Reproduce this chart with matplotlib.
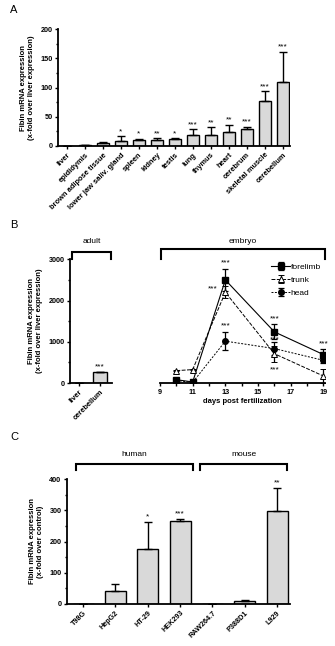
import numpy as np
import matplotlib
matplotlib.use("Agg")
import matplotlib.pyplot as plt

plt.rcParams['font.family'] = ['Liberation Sans', 'DejaVu Sans']
plt.rcParams['font.size'] = 5

# panel A: tissues
tissues = ["liver", "epididymis", "brown adipose tissue", "lower jaw saliv. gland",
           "spleen", "kidney", "testis", "lung", "thymus", "heart", "cerebrum",
           "skeletal muscle", "cerebellum"]
tissue_mean = [0, 1, 5, 8.5, 10, 10, 12, 19, 19, 24, 29, 77, 110]
tissue_err = [0, 0.5, 1.5, 8.5, 2, 3, 1.5, 9.5, 13, 12, 3.5, 17, 51]
tissue_sig = ["", "", "", "*", "*", "**", "*", "***", "**", "**", "***", "***", "***"]

# panel B: adult + embryo timecourse
adult = ["liver", "cerebellum"]
adult_mean = [0, 260]
adult_err = [0, 15]
adult_sig = ["", "***"]
days = [10, 11, 13, 16, 19]
forelimb = [80, 25, 2500, 1240, 690]
forelimb_err = [30, 10, 260, 180, 140]
trunk = [300, 325, 2200, 710, 170]
trunk_err = [20, 20, 150, 190, 160]
head = [60, 15, 1015, 835, 550]
head_err = [20, 10, 220, 150, 60]

# panel C: cell lines
cells = ["T98G", "HepG2", "HT-29", "HEK293", "RAW264.7", "P388D1", "L929"]
cell_mean = [0, 43, 176, 265, 0, 10, 297]
cell_err = [0, 21, 86, 7, 0, 3, 75]
cell_sig = ["", "", "*", "***", "", "", "**"]

W, H = 335, 646
fig = plt.figure(figsize=(W / 100, H / 100), dpi=100)

bar_face = "#d9d9d9"


def px_axes(x0, x1, ytop, ybot):
    return fig.add_axes([x0 / W, 1 - ybot / H, (x1 - x0) / W, (ybot - ytop) / H])


def style(ax):
    for s in ["top", "right"]:
        ax.spines[s].set_visible(False)
    for s in ["left", "bottom"]:
        ax.spines[s].set_linewidth(1.3)
    ax.tick_params(width=1, length=2.5, pad=1.5, labelsize=5.2)
    ax.tick_params(which="minor", width=1, length=1.8)
    for t in ax.get_yticklabels():
        t.set_fontweight("bold")


def bar_panel(ax, names, means, errs, sigs, width, ymax):
    x = np.arange(len(names))
    ax.bar(x, means, width=width, color=bar_face, edgecolor="black", linewidth=1)
    ax.errorbar(x, means, yerr=[np.zeros(len(x)), errs], fmt="none", ecolor="black",
                elinewidth=1, capsize=2.8, capthick=1)
    for xi, m, e, s in zip(x, means, errs, sigs):
        if s:
            ax.text(xi, m + e + ymax * 0.01, s, ha="center", va="bottom", fontsize=6)
    ax.set_xticks(x)
    ax.set_xticklabels(names, rotation=45, ha="right", rotation_mode="anchor",
                       fontweight="bold")


def bracket(ax, x0, x1, y, yarm, label, ylab):
    ax.plot([x0, x0, x1, x1], [yarm, y, y, yarm], color="black", lw=1.5, clip_on=False,
            solid_joinstyle="miter")
    ax.text((x0 + x1) / 2, ylab, label, ha="center", va="center", fontsize=6)


# ---- A ----
axA = px_axes(58, 290, 29.3, 146)
bar_panel(axA, tissues, tissue_mean, tissue_err, tissue_sig, 0.67, 200)
axA.set_xlim(-0.5, 12.4)
axA.set_ylim(0, 200)
axA.set_yticks([0, 50, 100, 150, 200])
axA.set_yticks(np.arange(0, 201, 25), minor=True)
style(axA)
axA.tick_params(axis="x", labelsize=5.4)
axA.set_ylabel("Fibin mRNA expression\n(x-fold over liver expression)",
               fontweight="bold", fontsize=5.5, labelpad=4, linespacing=1.1)
fig.text(10 / W, 1 - 10 / H, "A", fontsize=8, va="center")

# ---- B ----
axB1 = px_axes(70, 112, 259.3, 383)
bar_panel(axB1, adult, adult_mean, adult_err, adult_sig, 0.62, 3000)
axB1.set_xlim(-0.4, 1.56)
axB1.set_ylim(0, 3000)
axB1.set_yticks([0, 1000, 2000, 3000])
axB1.set_yticks(np.arange(0, 3001, 500), minor=True)
style(axB1)
axB1.tick_params(axis="x", labelsize=5.4)
axB1.set_ylabel("Fibin mRNA expression\n(x-fold over liver expression)",
                fontweight="bold", fontsize=5.5, labelpad=4, linespacing=1.1)
bracket(axB1, -0.31, 1.52, 3170, 3010, "adult", 3420)

axB2 = px_axes(160, 325, 259.3, 383)
axB2.errorbar(days, forelimb, yerr=forelimb_err, color="black", ls="-", lw=0.8,
              marker="s", ms=4, capsize=2.5, elinewidth=0.9, capthick=0.9, label="forelimb")
axB2.errorbar(days, trunk, yerr=trunk_err, color="black", ls=(0, (4, 1.5)), lw=0.7,
              marker="^", ms=4.5, mfc="white", mec="black", mew=0.7, capsize=2.5,
              elinewidth=0.9, capthick=0.9, label="trunk")
axB2.errorbar(days, head, yerr=head_err, color="black", ls=(0, (2, 1.5)), lw=0.7,
              marker="o", ms=4, capsize=2.5, elinewidth=0.9, capthick=0.9, label="head")
axB2.set_xlim(9, 19.1)
axB2.set_ylim(0, 3000)
axB2.set_xticks([9, 11, 13, 15, 17, 19])
axB2.set_xticks(np.arange(9, 20, 1), minor=True)
style(axB2)
axB2.tick_params(which="minor", length=2.5)
axB2.spines["left"].set_visible(False)
axB2.set_yticks([])
for t in axB2.get_xticklabels():
    t.set_fontweight("bold")
axB2.set_xlabel("days post fertilization", fontweight="bold", fontsize=5.5, labelpad=2)
stars_B = [(13, forelimb[2] + forelimb_err[2] + 60, "center", "bottom"),
           (12.55, trunk[2] + 80, "right", "center"),
           (13, head[2] + head_err[2] + 60, "center", "bottom"),
           (16, forelimb[3] + forelimb_err[3] + 40, "center", "bottom"),
           (16, head[3] + head_err[3] - 20, "center", "bottom"),
           (16, trunk[3] - trunk_err[3] - 120, "center", "top"),
           (19, forelimb[4] + forelimb_err[4] + 40, "center", "bottom")]
for sx, sy, ha, va in stars_B:
    axB2.text(sx, sy, "***", ha=ha, va=va, fontsize=6)
leg = axB2.legend(loc="upper right", bbox_to_anchor=(1.02, 1.03), frameon=False,
                  fontsize=6, handlelength=2.2, handletextpad=0.1, labelspacing=0.6)
bracket(axB2, 9.05, 19.1, 3240, 3000, "embryo", 3420)
fig.text(10 / W, 1 - 225 / H, "B", fontsize=8, va="center")

# ---- C ----
axC = px_axes(67, 290, 479, 604)
bar_panel(axC, cells, cell_mean, cell_err, cell_sig, 0.65, 400)
axC.set_xlim(-0.5, 6.4)
axC.set_ylim(0, 400)
axC.set_yticks([0, 100, 200, 300, 400])
axC.set_yticks(np.arange(0, 401, 50), minor=True)
style(axC)
axC.set_ylabel("Fibin mRNA expression\n(x-fold over control)",
               fontweight="bold", fontsize=5.5, labelpad=4, linespacing=1.1)
bracket(axC, -0.22, 3.4, 448, 428, "human", 480)
bracket(axC, 3.62, 6.3, 448, 428, "mouse", 480)
fig.text(10 / W, 1 - 437 / H, "C", fontsize=8, va="center")

fig.savefig("out.png", dpi=100)
